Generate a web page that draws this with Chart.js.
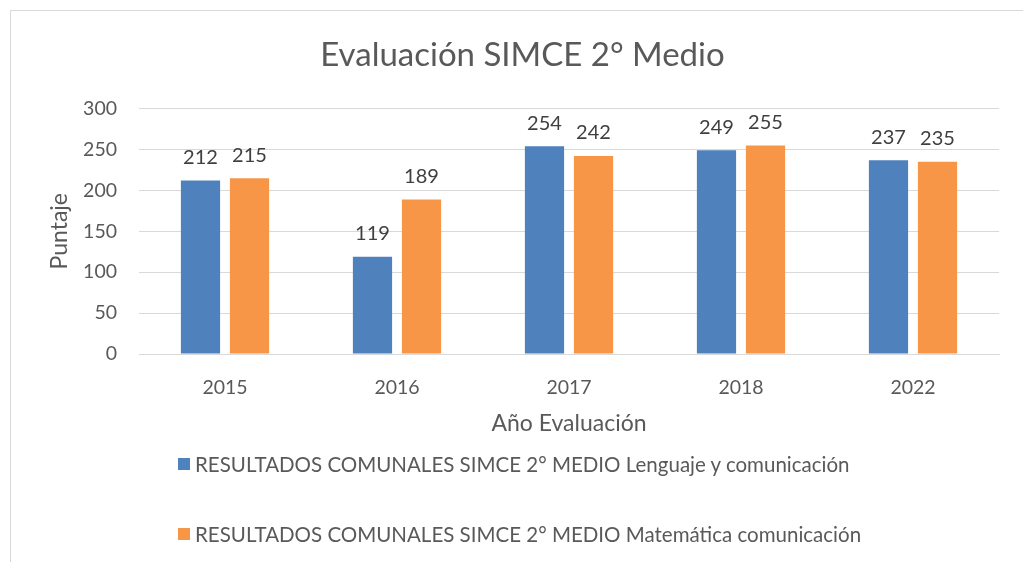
<!DOCTYPE html>
<html>
<head>
<meta charset="utf-8">
<script src="https://cdn.jsdelivr.net/npm/chart.js@4/dist/chart.umd.min.js"></script>
<style>
  html, body { margin: 0; padding: 0; background: #fff; overflow: hidden; }
  #wrap { position: relative; width: 1023px; height: 562px; }
  #frame { position: absolute; left: 10px; top: 10px; width: 1100px; height: 600px;
           border: 1px solid #d9d9d9; box-sizing: border-box; }
  #legend { position: absolute; left: 178px; top: 0; font-family: Lato, sans-serif;
            font-size: 20.5px; color: #595959; }
  .item { position: absolute; white-space: nowrap; display: flex; align-items: center; }
  .box { width: 12px; height: 12px; margin-right: 5px; }
</style>
</head>
<body>
<div id="wrap">
  <div id="frame"></div>
  <canvas id="chart" width="1023" height="562"></canvas>
  <div id="legend"></div>
</div>
<script>
// SIMCE 2° Medio — comunal results by year
const years = ['2015', '2016', '2017', '2018', '2022'];
const lenguaje = [212, 119, 254, 249, 237];
const matematica = [215, 189, 242, 255, 235];
const seriesNames = [
  'RESULTADOS COMUNALES SIMCE 2° MEDIO Lenguaje y comunicación',
  'RESULTADOS COMUNALES SIMCE 2° MEDIO Matemática comunicación'
];
const yTicks = [0, 50, 100, 150, 200, 250, 300];

const FONT = 'Lato, sans-serif';
const TEXT = '#595959';

// value labels above each bar
const barLabels = {
  id: 'barLabels',
  afterDatasetsDraw(chart) {
    const ctx = chart.ctx;
    ctx.save();
    ctx.font = '20px ' + FONT;
    ctx.fillStyle = '#404040';
    ctx.textAlign = 'center';
    ctx.textBaseline = 'middle';
    chart.data.datasets.forEach((ds, i) => {
      chart.getDatasetMeta(i).data.forEach((bar, j) => {
        ctx.fillText(ds.data[j], bar.x, bar.y - 23);
      });
    });
    ctx.restore();
  }
};

const chart = new Chart(document.getElementById('chart'), {
  type: 'bar',
  data: {
    labels: years,
    datasets: [
      { label: seriesNames[0], data: lenguaje, backgroundColor: '#4f81bd' },
      { label: seriesNames[1], data: matematica, backgroundColor: '#f79646' }
    ]
  },
  options: {
    responsive: false,
    animation: false,
    categoryPercentage: 0.57,
    barPercentage: 0.8,
    layout: { padding: { left: 46, right: 24, top: 0, bottom: 125 } },
    plugins: {
      legend: { display: false },
      tooltip: { enabled: false },
      title: {
        display: true,
        text: 'Evaluación SIMCE 2° Medio',
        color: TEXT,
        font: { family: FONT, size: 33, weight: 'normal' },
        padding: { top: 36, bottom: 33 }
      }
    },
    scales: {
      x: {
        grid: { display: false },
        border: { color: '#d9d9d9' },
        ticks: { color: TEXT, font: { family: FONT, size: 19.5 }, padding: 14 },
        title: { display: true, text: 'Año Evaluación', color: TEXT,
                 font: { family: FONT, size: 23 }, padding: { top: 0, bottom: 0 } },
        afterFit(s) { s.height = 83; }
      },
      y: {
        min: 0, max: 300,
        afterBuildTicks(s) { s.ticks = yTicks.map(v => ({ value: v })); },
        grid: { color: '#d9d9d9', lineWidth: 1, drawTicks: false },
        border: { display: false },
        ticks: { color: TEXT, font: { family: FONT, size: 19.5 }, padding: 22 },
        title: { display: true, text: 'Puntaje', color: TEXT,
                 font: { family: FONT, size: 23 }, padding: 0 },
        afterFit(s) { s.width = 93; }
      }
    }
  },
  plugins: [barLabels]
});

// legend rows, built from the chart datasets
const legendEl = document.getElementById('legend');
const rowTops = [452, 522];
chart.data.datasets.forEach((ds, i) => {
  const item = document.createElement('div');
  item.className = 'item';
  item.style.top = rowTops[i] + 'px';
  item.innerHTML = `<span class="box" style="background:${ds.backgroundColor}"></span>${ds.label}`;
  legendEl.appendChild(item);
});
</script>
</body>
</html>
